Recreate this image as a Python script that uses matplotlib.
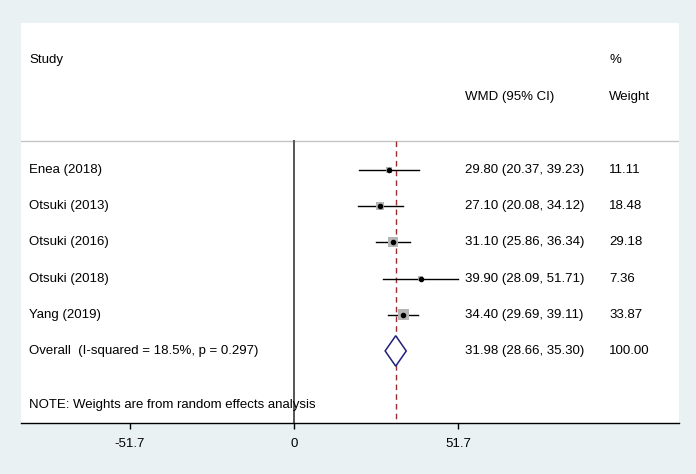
import numpy as np
import matplotlib.pyplot as plt

# study data
studies = ["Enea (2018)", "Otsuki (2013)", "Otsuki (2016)", "Otsuki (2018)", "Yang (2019)"]
wmd = [29.80, 27.10, 31.10, 39.90, 34.40]
lower = [20.37, 20.08, 25.86, 28.09, 29.69]
upper = [39.23, 34.12, 36.34, 51.71, 39.11]
weights = [11.11, 18.48, 29.18, 7.36, 33.87]

overall_label = "Overall  (I-squared = 18.5%, p = 0.297)"
overall = [31.98, 28.66, 35.30]
overall_weight = 100.00

xticks = [-51.7, 0, 51.7]
xtick_labels = ["-51.7", "0", "51.7"]

plt.rcParams['font.family'] = ['Liberation Sans', 'DejaVu Sans']

fig = plt.figure(figsize=(6.96, 4.74), dpi=100)
fig.patch.set_facecolor('#eaf1f3')
# white plot panel (pixels: x 21..679, y 23..423)
W, H = 696, 474
ax = fig.add_axes([21 / W, 1 - 423 / H, (679 - 21) / W, (423 - 23) / H])
ax.set_facecolor('white')

px_per_unit = 3.18
ax.set_xlim((21 - 294) / px_per_unit, (679 - 294) / px_per_unit)
ax.set_ylim(6.99, -4.06)

x_name = (29 - 294) / px_per_unit
x_est = (465 - 294) / px_per_unit
x_wt = (609 - 294) / px_per_unit
fs = 9.5

# headers
ax.text(x_name, -3.04, "Study", fontsize=fs, va='center', ha='left')
ax.text(x_wt, -3.04, "%", fontsize=fs, va='center', ha='left')
ax.text(x_est, -2.02, "WMD (95% CI)", fontsize=fs, va='center', ha='left')
ax.text(x_wt, -2.02, "Weight", fontsize=fs, va='center', ha='left')

# separator and reference lines
ax.axhline(-0.8, color='#c4c4c4', lw=1)
ax.plot([0, 0], [-0.8, 6.99], color='#555555', lw=1.4)
ax.plot([overall[0], overall[0]], [-0.8, 6.99], color='#9b2d30', lw=1,
        dashes=(4, 3))

rows = np.arange(len(studies))
for i in rows:
    ax.plot([lower[i], upper[i]], [i, i], color='black', lw=1)
    side = 1.89 * np.sqrt(weights[i]) * 0.72
    ax.scatter(wmd[i], i, marker='s', s=side ** 2, color='#b5b5b5',
               edgecolors='none', zorder=3)
    ax.plot(wmd[i], i, marker='o', ms=3, color='black', zorder=4)
    ax.text(x_name, i, studies[i], fontsize=fs, va='center', ha='left')
    ax.text(x_est, i, f"{wmd[i]:.2f} ({lower[i]:.2f}, {upper[i]:.2f})",
            fontsize=fs, va='center', ha='left')
    ax.text(x_wt, i, f"{weights[i]:.2f}", fontsize=fs, va='center', ha='left')

# overall diamond
yo = len(studies)
h = 0.42
ax.fill([overall[1], overall[0], overall[2], overall[0], overall[1]],
        [yo, yo - h, yo, yo + h, yo], facecolor='white', edgecolor='#1f1f7a',
        lw=1.1, zorder=5)
ax.text(x_name, yo, overall_label, fontsize=fs, va='center', ha='left')
ax.text(x_est, yo, f"{overall[0]:.2f} ({overall[1]:.2f}, {overall[2]:.2f})",
        fontsize=fs, va='center', ha='left')
ax.text(x_wt, yo, f"{overall_weight:.2f}", fontsize=fs, va='center', ha='left')

ax.text(x_name, 6.49, "NOTE: Weights are from random effects analysis",
        fontsize=fs, va='center', ha='left')

# axes styling
for s in ['top', 'left', 'right']:
    ax.spines[s].set_visible(False)
ax.spines['bottom'].set_linewidth(1)
ax.set_yticks([])
ax.set_xticks(xticks)
ax.set_xticklabels(xtick_labels, fontsize=fs)
ax.tick_params(axis='x', length=4.5, width=1, pad=6)

fig.savefig("out.png", dpi=100, facecolor=fig.get_facecolor())
